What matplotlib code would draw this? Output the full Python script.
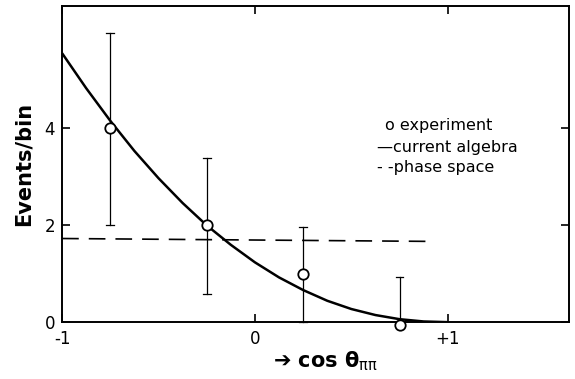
import matplotlib
matplotlib.use("Agg")
import matplotlib.pyplot as plt

plt.rcParams["mathtext.default"] = "bf"

# data
x_exp = [-0.75, -0.25, 0.25, 0.75]
y_exp = [4.0, 2.0, 1.0, -0.05]
err_lo = [2.0, 0.58, 0.0, 0.0]
err_hi = [5.95, 3.38, 1.95, 0.92]

x_ca = [-1, -0.875, -0.75, -0.625, -0.5, -0.375, -0.25, -0.125, 0,
        0.125, 0.25, 0.375, 0.5, 0.625, 0.75, 0.875, 1.0]
y_ca = [5.53, 4.81, 4.14, 3.52, 2.96, 2.45, 1.99, 1.59, 1.23,
        0.92, 0.66, 0.44, 0.27, 0.146, 0.061, 0.014, 0.0]

x_ps = [-1.0, 0.93]
y_ps = [1.72, 1.66]

xticks = [-1, 0, 1]
xticklabels = ["-1", "0", "+1"]
yticks = [0, 2, 4]
yticklabels = ["0", "2", "4"]

fig = plt.figure(figsize=(5.75, 3.79), dpi=100)
ax = fig.add_axes([0.108, 0.150, 0.882, 0.834])
ax.set_xlim(-1, 1.63)
ax.set_ylim(0, 6.5)

ax.plot(x_ca, y_ca, color="black", lw=1.8, solid_capstyle="butt")
ax.plot(x_ps, y_ps, color="black", lw=1.2, dashes=(10, 6))
for x, lo, hi in zip(x_exp, err_lo, err_hi):
    ax.plot([x, x], [lo, hi], color="black", lw=0.9, clip_on=False)
    ax.plot([x - 0.02, x + 0.02], [hi, hi], color="black", lw=0.9, clip_on=False)
    ax.plot([x - 0.02, x + 0.02], [lo, lo], color="black", lw=0.9, clip_on=False)
ax.plot(x_exp, y_exp, "o", mfc="white", mec="black", ms=7.5, mew=1.3,
        clip_on=False, zorder=5)

for s in ax.spines.values():
    s.set_linewidth(1.4)

ax.set_xticks(xticks)
ax.set_xticklabels(xticklabels)
ax.set_yticks(yticks)
ax.set_yticklabels(yticklabels)
ax.tick_params(direction="in", length=6, width=1.2, top=True, right=True,
               labelsize=12, pad=5)
ax.tick_params(axis="x", pad=6)

ax.set_ylabel("Events/bin", fontsize=15, fontweight="bold", labelpad=8)
ax.set_xlabel("\u2794 cos $\\theta_{\\mathrm{\\pi\\pi}}$", fontsize=15,
              fontweight="bold", labelpad=4)
ax.xaxis.set_label_coords(0.52, -0.085)

ax.text(0.637, 0.623, "o experiment", transform=ax.transAxes, fontsize=11.5,
        va="center")
ax.text(0.621, 0.554, "\u2014current algebra", transform=ax.transAxes,
        fontsize=11.5, va="center")
ax.text(0.621, 0.49, "- -phase space", transform=ax.transAxes, fontsize=11.5,
        va="center")

fig.savefig("out.png", dpi=100)
